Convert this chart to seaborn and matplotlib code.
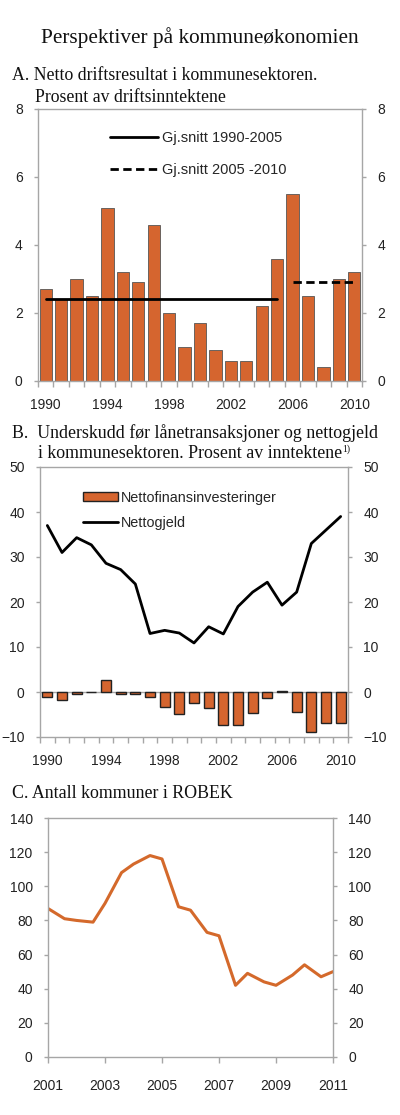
import matplotlib
matplotlib.use("Agg")
import matplotlib.pyplot as plt
import seaborn as sns
import numpy as np
import pandas as pd

# ---------------- data ----------------
years_a = list(range(1990, 2011))
drift = [2.7, 2.4, 3.0, 2.5, 5.1, 3.2, 2.9, 4.6, 2.0, 1.0, 1.7, 0.9, 0.6, 0.6,
         2.2, 3.6, 5.5, 2.5, 0.4, 3.0, 3.2]
avg1_label = "Gj.snitt 1990-2005"
avg1_years = [1990, 2005]
avg1_value = 2.4
avg2_label = "Gj.snitt 2005 -2010"
avg2_years = [2006, 2010]
avg2_value = 2.9

years_b = list(range(1990, 2011))
nettofin = [-1.0, -1.8, -0.4, 0.0, 2.6, -0.4, -0.5, -1.0, -3.3, -4.9, -2.5,
            -3.6, -7.4, -7.4, -4.7, -1.4, 0.3, -4.5, -8.8, -6.9, -6.9]
nettogjeld = [37.0, 31.0, 34.3, 32.7, 28.6, 27.2, 24.0, 13.0, 13.7, 13.1, 10.9,
              14.5, 12.9, 19.0, 22.2, 24.4, 19.3, 22.2, 33.0, 36.0, 39.0]

time_c = [2001.0, 2001.58, 2002.0, 2002.58, 2003.0, 2003.58, 2004.0, 2004.58,
          2005.0, 2005.58, 2006.0, 2006.58, 2007.0, 2007.58, 2008.0, 2008.58,
          2009.0, 2009.58, 2010.0, 2010.58, 2011.0]
robek = [87, 81, 80, 79, 90, 108, 113, 118, 116, 88, 86, 73, 71, 42, 49, 44,
         42, 48, 54, 47, 50]

xt_ab = [1990, 1994, 1998, 2002, 2006, 2010]
xt_c = [2001, 2003, 2005, 2007, 2009, 2011]

title = "Perspektiver på kommuneøkonomien"
title_a = ["A. Netto driftsresultat i kommunesektoren.", "Prosent av driftsinntektene"]
title_b = ["B.  Underskudd før lånetransaksjoner og nettogjeld",
           "i kommunesektoren. Prosent av inntektene"]
footnote_mark = "1)"
title_c = "C. Antall kommuner i ROBEK"

# ---------------- style ----------------
sns.set_theme(style="white")
plt.rcParams["font.family"] = ["Liberation Sans", "DejaVu Sans"]
ORANGE = "#D5652F"
LINE_OR = "#D4692B"
GRAY = "#A6A6A6"
TXT = "#222222"
SERIF = ["Liberation Serif", "DejaVu Serif"]
TICKFS = 10
W, H = 400, 1115

fig = plt.figure(figsize=(W / 100, H / 100), dpi=100)
fig.patch.set_facecolor("white")


def px_axes(left, top, right, bottom):
    return fig.add_axes([left / W, 1 - bottom / H, (right - left) / W, (bottom - top) / H])


def style_axes(ax):
    for s in ax.spines.values():
        s.set_color(GRAY)
        s.set_linewidth(1.0)
    ax.tick_params(axis="y", which="both", direction="out", length=3, width=1,
                   color=GRAY, labelcolor=TXT, labelsize=TICKFS, pad=8,
                   left=True, right=True, labelleft=True, labelright=True)
    ax.tick_params(axis="x", which="both", direction="out", color=GRAY, width=1,
                   labelcolor=TXT, labelsize=TICKFS, pad=12, bottom=True)
    ax.set_xlabel("")
    ax.set_ylabel("")
    ax.grid(False)


def ftext(x, y, s, **kw):
    return fig.text(x / W, 1 - y / H, s, **kw)


ftext(200, 38, title, ha="center", va="center", fontsize=15.3, family=SERIF, color="#111111")

# ---------------- panel A ----------------
axA = px_axes(38, 109, 362, 381)
sns.barplot(x=years_a, y=drift, native_scale=True, width=0.8, color=ORANGE,
            edgecolor="#555555", linewidth=0.6, saturation=1, ax=axA)
sns.lineplot(x=avg1_years, y=[avg1_value] * 2, color="black", linewidth=2,
             label=avg1_label, ax=axA)
sns.lineplot(x=avg2_years, y=[avg2_value] * 2, color="black", linewidth=2,
             linestyle=(0, (3, 1.6)), label=avg2_label, ax=axA)
axA.set_xlim(years_a[0] - 0.5, years_a[-1] + 0.5)
axA.set_ylim(0, 8)
axA.set_yticks([0, 2, 4, 6, 8])
axA.set_xticks(xt_ab)
axA.set_xticklabels([str(v) for v in xt_ab])
axA.set_xticks(np.arange(years_a[0] - 0.5, years_a[-1] + 1), minor=True)
style_axes(axA)
axA.tick_params(axis="x", which="major", length=0)
axA.tick_params(axis="x", which="minor", length=4)
axA.tick_params(axis="y", which="minor", length=0)
axA.legend(loc="upper left", bbox_to_anchor=((110 - 38) / 324, 1 - (131 - 109) / 272),
           frameon=False, fontsize=10.5, handlelength=3.3, handletextpad=0.25,
           labelspacing=1.25, borderpad=0, borderaxespad=0)
ftext(12, 75, title_a[0], ha="left", va="center", fontsize=12.8, family=SERIF, color="#111111")
ftext(35, 97, title_a[1], ha="left", va="center", fontsize=12.8, family=SERIF, color="#111111")

# ---------------- panel B ----------------
axB = px_axes(40, 467, 348, 737)
axB.axhline(0, color=GRAY, linewidth=1.0, zorder=1)
sns.barplot(x=years_b, y=nettofin, native_scale=True, width=0.7, color=ORANGE,
            edgecolor="#222222", linewidth=1.0, saturation=1, ax=axB,
            label="Nettofinansinvesteringer", zorder=2)
sns.lineplot(x=years_b, y=nettogjeld, color="black", linewidth=2,
             label="Nettogjeld", ax=axB)
axB.set_xlim(years_b[0] - 0.5, years_b[-1] + 0.5)
axB.set_ylim(-10, 50)
axB.set_yticks(list(range(-10, 51, 10)))
axB.set_xticks(xt_ab)
axB.set_xticklabels([str(v) for v in xt_ab])
axB.set_xticks(np.arange(years_b[0] - 0.5, years_b[-1] + 1), minor=True)
style_axes(axB)
axB.tick_params(axis="x", which="major", length=0)
axB.tick_params(axis="x", which="minor", length=4)
axB.tick_params(axis="y", which="minor", length=0)
handles, labels = axB.get_legend_handles_labels()
order = [labels.index("Nettofinansinvesteringer"), labels.index("Nettogjeld")]
axB.legend([handles[i] for i in order], [labels[i] for i in order],
           loc="upper left", bbox_to_anchor=((83 - 40) / 308, 1 - (491 - 467) / 270),
           frameon=False, fontsize=10.4, handlelength=2.4, handleheight=0.6,
           handletextpad=0.25, labelspacing=0.75, borderpad=0, borderaxespad=0)
ftext(12, 433, title_b[0], ha="left", va="center", fontsize=12.9, family=SERIF, color="#111111")
tb2 = ftext(38, 453, title_b[1], ha="left", va="center", fontsize=12.9, family=SERIF, color="#111111")
fig.canvas.draw()
bb = tb2.get_window_extent(renderer=fig.canvas.get_renderer())
fig.text(bb.x1 / W + 0.5 / W, 1 - 449 / H, footnote_mark, ha="left", va="center",
         fontsize=7, family=SERIF, color="#111111")

# ---------------- panel C ----------------
axC = px_axes(48, 818, 333, 1057)
sns.lineplot(x=time_c, y=robek, color=LINE_OR, linewidth=2.2, ax=axC)
axC.set_xlim(xt_c[0], xt_c[-1])
axC.set_ylim(0, 140)
axC.set_yticks(list(range(0, 141, 20)))
axC.set_xticks(xt_c)
axC.set_xticklabels([str(v) for v in xt_c])
style_axes(axC)
axC.tick_params(axis="x", which="major", length=4)
ftext(12, 793, title_c, ha="left", va="center", fontsize=12.9, family=SERIF, color="#111111")

fig.savefig("out.png", dpi=100, facecolor="white")
